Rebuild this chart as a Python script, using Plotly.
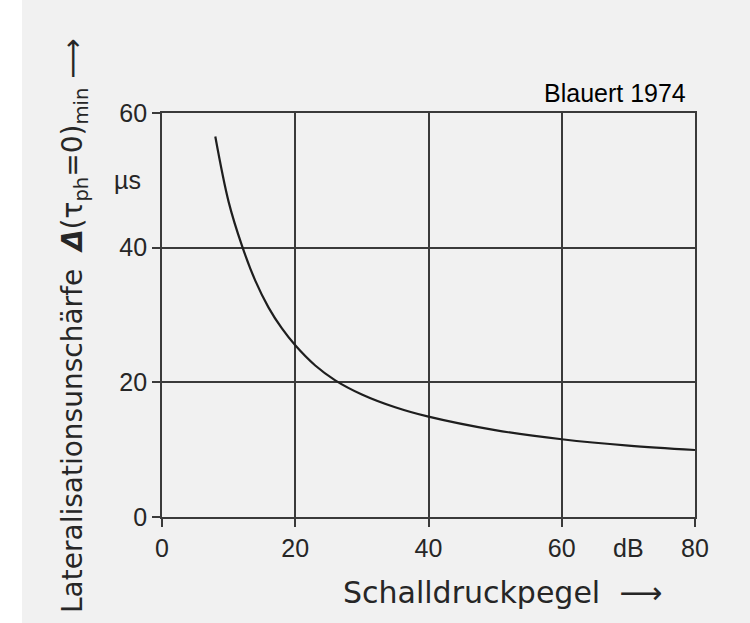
import plotly.graph_objects as go

# Data (Blauert 1974)
level_db = [8, 10, 12, 14, 16, 18, 20, 23, 26, 30, 35, 40, 50, 60, 70, 80]
blur_us = [56.5, 46.8, 40.3, 35.1, 31.1, 28.0, 25.5, 22.5, 20.3, 18.2, 16.3, 14.9, 12.9, 11.55, 10.6, 9.95]

x_ticks = [0, 20, 40, 60, 80]
y_ticks = [0, 20, 40, 60]

BG = "#f1f1f1"
INK = "#262626"
GRID = "#3a3a3a"

fig = go.Figure()
fig.add_trace(go.Scatter(
    x=level_db, y=blur_us, mode="lines",
    line=dict(color="#1e1e1e", width=2.2, shape="spline", smoothing=1.0),
    hoverinfo="skip", showlegend=False,
))

axis_common = dict(
    showgrid=True, gridcolor=GRID, gridwidth=1.6,
    showline=True, linecolor=GRID, linewidth=1.8, mirror=True,
    ticks="outside", ticklen=8, tickwidth=1.6, tickcolor=GRID,
    zeroline=False,
    tickfont=dict(family="Liberation Sans", size=25, color=INK),
)

fig.update_xaxes(range=[0, 80], tickvals=x_ticks, ticktext=[str(v) for v in x_ticks], **axis_common)
fig.update_yaxes(range=[0, 60], tickvals=y_ticks, ticktext=[str(v) for v in y_ticks], **axis_common)

W, H = 750, 623
# target plot area in page pixels: x 162..695, y 113..517
L, T = 162, 113
R = W - 695
B = H - 517
pw, ph = W - L - R, H - T - B

def px_x(p):
    return (p - L) / pw

def px_y(p):
    return (H - B - p) / ph

annotations = [
    dict(text="Blauert 1974", xref="paper", yref="paper", x=px_x(615), y=px_y(93),
         xanchor="center", yanchor="middle", showarrow=False,
         font=dict(family="Liberation Sans", size=25, color="#000000")),
    dict(text="Schalldruckpegel  ⟶", xref="paper", yref="paper", x=px_x(503), y=px_y(592),
         xanchor="center", yanchor="middle", showarrow=False,
         font=dict(family="DejaVu Sans", size=30, color=INK)),
    dict(text="Lateralisationsunschärfe  <b><i>Δ</i></b>(τ<sub>ph</sub>=0)<sub>min</sub> ⟶",
         xref="paper", yref="paper", x=px_x(74), y=px_y(326),
         xanchor="center", yanchor="middle", showarrow=False, textangle=-90,
         font=dict(family="DejaVu Sans", size=28, color=INK)),
    dict(text="µs", xref="paper", yref="y", x=px_x(143), y=50,
         xanchor="right", yanchor="middle", showarrow=False,
         font=dict(family="Liberation Sans", size=25, color=INK)),
    dict(text="dB", xref="x", yref="paper", x=70, y=px_y(548),
         xanchor="center", yanchor="middle", showarrow=False,
         font=dict(family="Liberation Sans", size=25, color=INK)),
]

fig.update_layout(
    width=W, height=H,
    margin=dict(l=L, r=R, t=T, b=B, pad=0),
    paper_bgcolor=BG, plot_bgcolor=BG,
    annotations=annotations,
    shapes=[dict(type="rect", xref="paper", yref="paper", x0=px_x(-20), x1=px_x(22),
                 y0=px_y(H + 20), y1=px_y(-20), fillcolor="#ffffff", line=dict(width=0),
                 layer="below")],
    showlegend=False,
)

fig.write_html("out.html", config={"displayModeBar": False},
               post_script="document.body.style.margin='0px';")
